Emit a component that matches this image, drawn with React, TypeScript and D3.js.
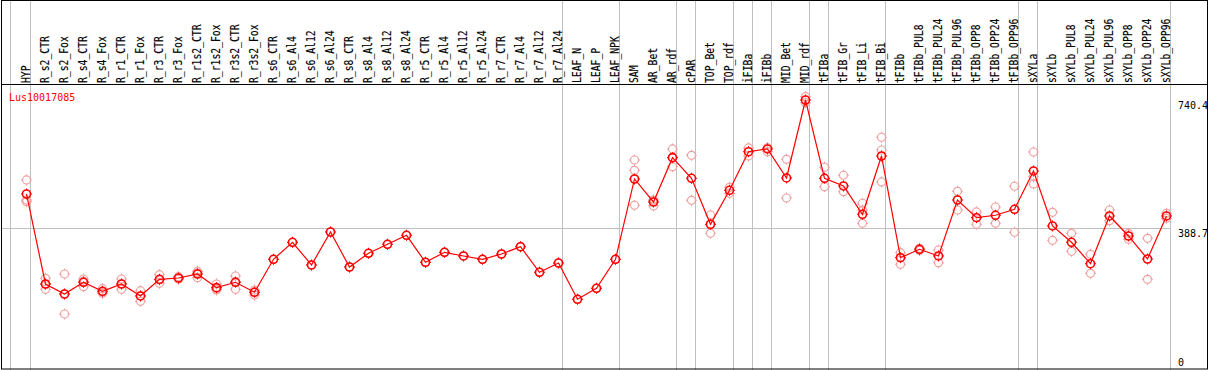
import React from "react";
import * as d3 from "d3";

const categories = [
  "HYP","R_s2_CTR","R_s2_Fox","R_s4_CTR","R_s4_Fox","R_r1_CTR","R_r1_Fox","R_r3_CTR","R_r3_Fox",
  "R_r1s2_CTR","R_r1s2_Fox","R_r3s2_CTR","R_r3s2_Fox","R_s6_CTR","R_s6_Al4","R_s6_Al12","R_s6_Al24",
  "R_s8_CTR","R_s8_Al4","R_s8_Al12","R_s8_Al24","R_r5_CTR","R_r5_Al4","R_r5_Al12","R_r5_Al24",
  "R_r7_CTR","R_r7_Al4","R_r7_Al12","R_r7_Al24","LEAF_N","LEAF_P","LEAF_NPK","SAM","AR_Bet","AR_rdf",
  "cPAR","TOP_Bet","TOP_rdf","iFIBa","iFIBb","MID_Bet","MID_rdf","tFIBa","tFIB_Gr","tFIB_Li","tFIB_Bi",
  "tFIBb","tFIBb_PUL8","tFIBb_PUL24","tFIBb_PUL96","tFIBb_OPP8","tFIBb_OPP24","tFIBb_OPP96",
  "sXYLa","sXYLb","sXYLb_PUL8","sXYLb_PUL24","sXYLb_PUL96","sXYLb_OPP8","sXYLb_OPP24","sXYLb_OPP96",
];

const means = [
  482.2,234.9,207.4,239.6,214.9,234.9,202.0,247.8,251.4,262.4,224.8,239.6,212.1,302.8,349.5,287.1,377.8,
  281.6,319.3,344.0,368.7,294.5,322.0,311.9,302.8,317.3,337.4,267.1,292.6,192.9,223.1,302.8,523.4,460.2,
  582.0,525.3,399.0,492.4,598.4,605.9,526.2,740.4,525.3,504.2,426.4,586.6,307.2,330.3,311.9,465.7,417.1,
  423.7,440.2,545.4,394.3,349.5,290.7,421.8,366.8,303.6,421.8,
];

const replicates: number[][] = [
  [520.7,465.7,461.1],[250.6,234,220.4],[262.4,207.3,152.5],[248.7,242.6,227.5],[222,209.4,213],
  [248.7,235,220.4],[216.5,187.4,202],[260.5,236.8,246],[255,248],[269.8,252.2,265],[234.9,218.4,221],
  [256.9,241.5,220.4],[218.4,204.7,213],[302.8],[349.5],[287.1],[377.8],[281.6],[319.3],[344.0],[368.7],
  [294.5],[322.0],[311.9],[302.8],[317.3],[337.4],[267.1],[292.6],[192.9],[223.1],[302.8],
  [575.6,547.3,451.2],[465.7,449.2,465],[605.9,557.2,583],[588.5,464.9],[424.5,374.2,398],[500.6,484.1],
  [608.6,586.6],[609.4,598.4],[577.5,471.2],[749.6,733.1],[555.6,502.3],[533.6,488.5],[456.7,401.7,438],
  [638.0,603.1,515.2],[320.9,289.0],[327,333],[328.3,293.4],[489.6,438.2],[432.8,399.0],[446.5,401.7],
  [503.4,377.0],[597.6,529.7,509.7],[431.9,355.0],[374.2,324.8],[316.5,264.3],[438.2,408.8],[374.2,357.7],
  [360.5,247.8],[429.2,415.4],
];

// index of last column in each group (group separator lines)
const groupEnds = [0, 28, 31, 34, 35, 37, 38, 39, 41, 42, 45, 52, 53, 60];
const yTicks = [740.4, 388.7, 0];
const geneName = "Lus10017085";

const W = 1209, H = 370;
const FONT = "'DejaVu Sans Mono', 'Liberation Mono', monospace";

function Marker({ x, y, color, sw }: { x: number; y: number; color: string; sw: number }) {
  const r = 4;
  const t = 1.5;
  return (
    <g stroke={color} strokeWidth={sw} fill="none">
      <circle cx={x} cy={y} r={r} />
      <line x1={x} y1={y - r - t} x2={x} y2={y - r} strokeWidth={1} />
      <line x1={x} y1={y + r} x2={x} y2={y + r + t} strokeWidth={1} />
      <line x1={x - r - t} y1={y} x2={x - r} y2={y} strokeWidth={1} />
      <line x1={x + r} y1={y} x2={x + r + t} y2={y} strokeWidth={1} />
    </g>
  );
}

export default function App() {
  const x = d3.scaleLinear().domain([0, categories.length - 1]).range([26.5, 26.5 + 19 * (categories.length - 1)]);
  const y = d3.scaleLinear().domain([0, 740.4]).range([369.5, 100]);
  const line = d3.line<number>().x((_, i) => x(i)).y((d) => y(d));
  const headerY = 84.5;
  const plotRight = x(60) + 4;

  return (
    <svg width={W} height={H} style={{ position: "absolute", left: 0, top: 0, background: "#fff" }}
      fontFamily={FONT}>
      <rect x={0} y={0} width={W} height={H} fill="#fff" />
      {/* horizontal reference line */}
      <line x1={1.5} x2={plotRight} y1={Math.round(y(388.7)) + 0.5} y2={Math.round(y(388.7)) + 0.5} stroke="#c0c0c0" />
      {/* vertical group lines */}
      <line x1={10.5} x2={10.5} y1={0} y2={H} stroke="#c0c0c0" />
      {groupEnds.map((g) => (
        <line key={g} x1={x(g) + 4} x2={x(g) + 4} y1={0} y2={H} stroke="#c0c0c0" />
      ))}
      {/* frame */}
      <rect x={1.5} y={0.5} width={1206} height={368.5} fill="none" stroke="#000" />
      <line x1={1.5} x2={1208} y1={headerY} y2={headerY} stroke="#000" />
      {/* category labels */}
      {categories.map((c, i) => (
        <text key={c} transform={`translate(${x(i) + 3.5},83) rotate(-90)`} fontSize={12}
          textLength={c.length * 5.85} lengthAdjust="spacingAndGlyphs" fill="#000"
          stroke="#000" strokeWidth={0.15}>{c}</text>
      ))}
      {/* gene name */}
      <text x={9} y={101} fontSize={10} fill="#ff0000">{geneName}</text>
      {/* y tick labels */}
      {yTicks.map((t, i) => (
        <text key={t} x={1178} y={i === 2 ? 366 : y(t) + 9} fontSize={10} fill="#000">{String(t)}</text>
      ))}
      {/* replicates */}
      {replicates.map((reps, i) => reps.map((v, j) => (
        <Marker key={`${i}-${j}`} x={x(i)} y={y(v)} color="#f0a0a0" sw={1.2} />
      )))}
      {/* mean line */}
      <path d={line(means) || ""} fill="none" stroke="#ff0000" strokeWidth={1.2} />
      {means.map((v, i) => (
        <Marker key={`m${i}`} x={x(i)} y={y(v)} color="#ff0000" sw={1.6} />
      ))}
    </svg>
  );
}
